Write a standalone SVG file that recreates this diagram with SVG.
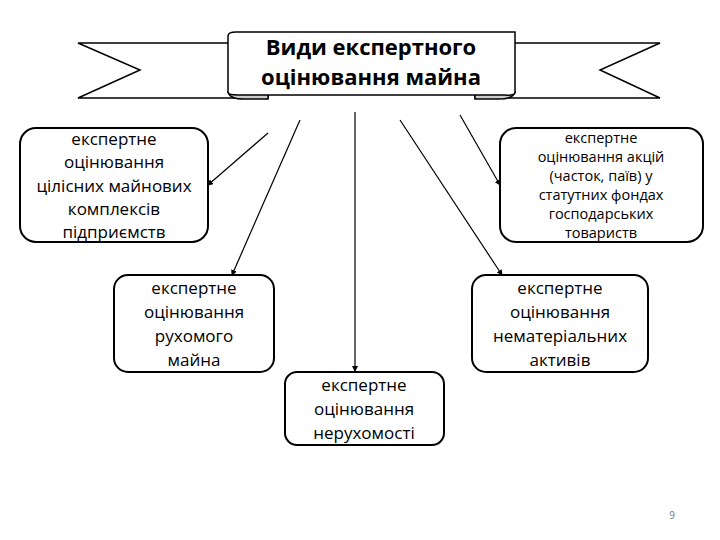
<svg xmlns="http://www.w3.org/2000/svg" width="720" height="540" viewBox="0 0 720 540">
<style>
.b{fill:#fff;stroke:#000;stroke-width:2}
.t{font-family:"Open Sans","DejaVu Sans",sans-serif;font-size:17px;text-anchor:middle;fill:#000}
.s{font-size:14.5px}
.h{font-family:"Open Sans","DejaVu Sans",sans-serif;font-size:22px;font-weight:bold;text-anchor:middle;fill:#000}
.c{stroke:#000;stroke-width:1.2;fill:none;marker-end:url(#a)}
</style>
<defs><marker id="a" markerWidth="6" markerHeight="6" refX="5" refY="3" orient="auto" markerUnits="userSpaceOnUse"><path d="M0,0 L6,3 L0,6z" fill="#000"/></marker></defs>
<rect width="720" height="540" fill="#fff"/>
<g id="banner">
<path d="M228,43 H78 L140,70 L78,98 H268 V92" fill="#fff" stroke="#000" stroke-width="1.5"/>
<path d="M515,43 H660 L600,70 L660,98 H475 V92" fill="#fff" stroke="#000" stroke-width="1.5"/>
<path d="M228,92 Q230,100 248,99 H268 V92z" fill="#ccc" stroke="#000" stroke-width="1.5"/>
<path d="M515,92 Q513,100 495,99 H475 V92z" fill="#ccc" stroke="#000" stroke-width="1.5"/>
<path d="M228,36 Q228,32 236,32 H515 V92 Q515,96 505,95 H238 Q228,95 228,92z" fill="#fff" stroke="#000" stroke-width="1.5"/>
<text class="h" x="371" y="55">Види експертного</text>
<text class="h" x="371" y="85">оцінювання майна</text>
</g>
<g id="connectors">
<line class="c" x1="268" y1="133" x2="208" y2="185"/>
<line class="c" x1="300" y1="120" x2="232" y2="275"/>
<line class="c" x1="355" y1="112" x2="355" y2="371"/>
<line class="c" x1="400" y1="120" x2="502" y2="275"/>
<line class="c" x1="460" y1="115" x2="500" y2="185"/>
</g>
<g id="n1"><rect class="b" x="20" y="128" width="188" height="114" rx="16"/>
<text class="t" x="114" y="145">експертне</text><text class="t" x="114" y="168">оцінювання</text><text class="t" x="114" y="192">цілісних майнових</text><text class="t" x="114" y="215">комплексів</text><text class="t" x="114" y="238">підприємств</text></g>
<g id="n2"><rect class="b" x="500" y="128" width="203" height="114" rx="16"/>
<text class="t s" x="601" y="143">експертне</text><text class="t s" x="601" y="162">оцінювання акцій</text><text class="t s" x="601" y="181">(часток, паїв) у</text><text class="t s" x="601" y="200">статутних фондах</text><text class="t s" x="601" y="219">господарських</text><text class="t s" x="601" y="238">товариств</text></g>
<g id="n3"><rect class="b" x="114" y="275" width="160" height="97" rx="14"/>
<text class="t" x="194" y="294">експертне</text><text class="t" x="194" y="318">оцінювання</text><text class="t" x="194" y="342">рухомого</text><text class="t" x="194" y="366">майна</text></g>
<g id="n4"><rect class="b" x="472" y="275" width="176" height="97" rx="14"/>
<text class="t" x="560" y="294">експертне</text><text class="t" x="560" y="318">оцінювання</text><text class="t" x="560" y="342">нематеріальних</text><text class="t" x="560" y="366">активів</text></g>
<g id="n5"><rect class="b" x="285" y="372" width="159" height="73" rx="12"/>
<text class="t" x="364" y="391">експертне</text><text class="t" x="364" y="415">оцінювання</text><text class="t" x="364" y="439">нерухомості</text></g>
<text x="672" y="519" font-family="Open Sans,sans-serif" font-size="10" fill="#777" text-anchor="middle">9</text>
</svg>
